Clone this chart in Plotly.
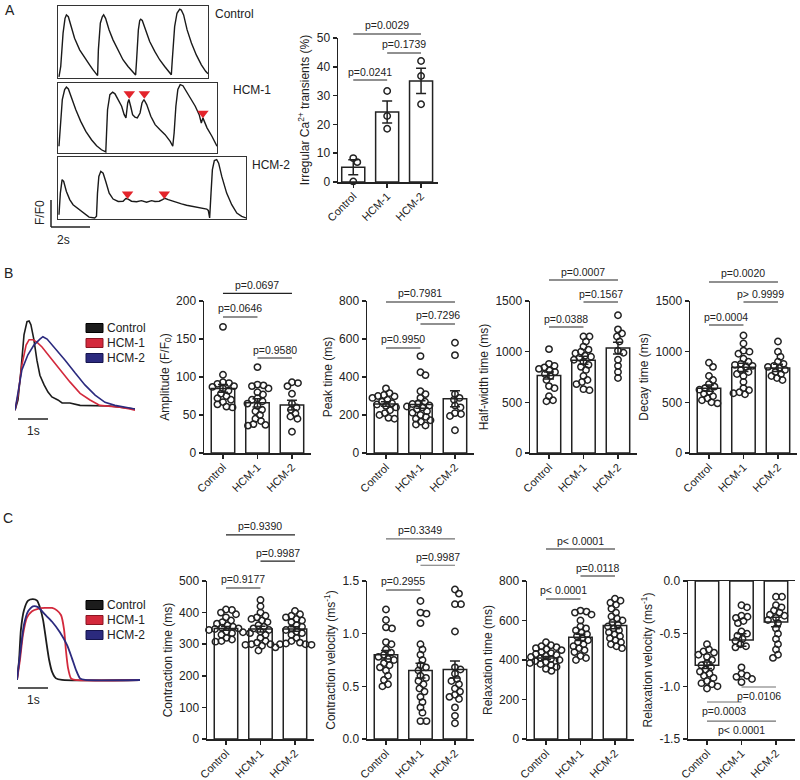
import plotly.graph_objects as go

# ------------------------------------------------------------------ DATA
CATS = ["Control", "HCM-1", "HCM-2"]
TRACE_NAMES = ["Control", "HCM-1", "HCM-2"]
TRACE_COLORS = ["#1c1c1c", "#d3293c", "#2b2a7e"]
SWATCH_EDGES = ["#000000", "#8a1522", "#15144d"]

# Panel A representative Ca2+ transients (time in s, F/F0)
A_CTRL_T = [0.05, 0.14, 0.26, 0.36, 0.43, 0.53, 0.68, 0.85, 1.11, 1.37, 1.62, 1.79, 1.97, 2.03, 2.07, 2.17, 2.27, 2.34, 2.44, 2.62,
            2.82, 3.08, 3.33, 3.59, 3.85, 3.98, 4.03, 4.12, 4.19, 4.24, 4.32, 4.50, 4.70, 4.96, 5.21, 5.47, 5.69, 5.81, 5.86, 5.98,
            6.10, 6.24, 6.32, 6.44, 6.62, 6.84, 7.09, 7.35, 7.57, 7.69]
A_CTRL_F = [1.04, 1.43, 2.67, 3.22, 3.35, 3.28, 2.91, 2.48, 2.05, 1.74, 1.49, 1.31, 1.16, 1.09, 2.05, 3.04, 3.28, 3.35, 3.22, 2.79,
            2.42, 2.05, 1.68, 1.43, 1.21, 1.11, 1.68, 2.79, 3.14, 3.19, 3.14, 2.73, 2.36, 1.99, 1.68, 1.43, 1.21, 1.12, 1.68, 2.91,
            3.41, 3.56, 3.53, 3.35, 2.79, 2.30, 1.86, 1.49, 1.25, 1.16]
A_HCM1_T = [0.05, 0.12, 0.22, 0.34, 0.43, 0.53, 0.68, 0.91, 1.16, 1.42, 1.71, 1.97, 2.22, 2.44, 2.48, 2.53, 2.65, 2.79, 2.91, 3.08,
            3.25, 3.38, 3.47, 3.56, 3.62, 3.71, 3.81, 3.93, 4.05, 4.19, 4.29, 4.39, 4.53, 4.74, 4.96, 5.21, 5.47, 5.73, 5.86, 5.93,
            6.02, 6.12, 6.24, 6.38, 6.55, 6.75, 7.01, 7.21, 7.32, 7.40, 7.47, 7.61, 7.86, 8.12]
A_HCM1_F = [1.25, 1.99, 2.98, 3.35, 3.44, 3.37, 3.04, 2.60, 2.17, 1.80, 1.49, 1.27, 1.12, 1.04, 1.74, 2.60, 3.16, 3.25, 3.19, 2.98,
            2.73, 2.42, 2.30, 2.85, 2.98, 2.73, 2.42, 2.33, 2.30, 2.48, 2.85, 2.98, 2.79, 2.36, 2.05, 1.86, 1.68, 1.43, 1.25, 1.74,
            2.73, 3.35, 3.53, 3.49, 3.28, 3.04, 2.73, 2.42, 2.11, 2.30, 2.17, 1.93, 1.62, 1.25]
A_HCM1_EVENT_T = [3.64, 4.41, 7.40]
A_HCM1_EVENT_F = [3.19, 3.19, 2.47]
A_HCM2_T = [0.05, 0.12, 0.21, 0.29, 0.43, 0.60, 0.77, 0.97, 1.20, 1.42, 1.59, 1.88, 1.97, 2.02, 2.09, 2.19, 2.31, 2.44, 2.62, 2.82,
            3.08, 3.33, 3.47, 3.59, 3.76, 4.02, 4.27, 4.53, 4.79, 4.96, 5.18, 5.35, 5.47, 5.64, 5.86, 6.07, 6.32, 6.58, 6.84, 7.09,
            7.35, 7.61, 7.69, 7.76, 7.83, 7.90, 8.00, 8.12, 8.22, 8.38, 8.63, 8.89, 9.15, 9.40, 9.62]
A_HCM2_F = [1.16, 1.96, 2.46, 2.40, 2.02, 1.72, 1.53, 1.41, 1.28, 1.16, 1.07, 1.04, 1.10, 1.96, 2.58, 2.77, 2.70, 2.40, 1.96, 1.74,
            1.65, 1.66, 1.76, 1.74, 1.66, 1.64, 1.68, 1.62, 1.68, 1.65, 1.66, 1.72, 1.77, 1.72, 1.66, 1.60, 1.56, 1.51, 1.48, 1.44,
            1.41, 1.37, 1.32, 1.04, 1.96, 2.83, 3.17, 3.20, 3.07, 2.58, 1.96, 1.53, 1.22, 1.10, 1.04]
A_HCM2_EVENT_T = [3.56, 5.44]
A_HCM2_EVENT_F = [1.93, 1.93]

# Panel A: irregular Ca2+ transients (%)
IRR_GROUPS = [[8.3, 6.9, 0.2], [31.6, 22.9, 18.5], [42.0, 36.8, 27.0]]
IRR_MEAN = [5.1, 24.3, 35.1]
IRR_SEM = [2.6, 3.8, 4.4]
IRR_P = ["p=0.0241", "p=0.1739", "p=0.0029"]          # (C vs H1, H1 vs H2, C vs H2)

# Panel B average transients (time s, normalised F/F0)
B_T = [
    [0, 0.1, 0.2, 0.3, 0.4, 0.47, 0.53, 0.63, 0.73, 0.83, 0.97, 1.1, 1.23, 1.43, 1.57, 1.83, 2.17, 2.5, 2.83, 3.17, 3.5, 3.83, 4.0],
    [0, 0.1, 0.23, 0.37, 0.47, 0.6, 0.73, 0.9, 1.17, 1.5, 1.83, 2.17, 2.5, 2.83, 3.17, 3.5, 3.83, 4.0],
    [0, 0.1, 0.23, 0.43, 0.63, 0.83, 0.93, 1.07, 1.33, 1.67, 2.0, 2.33, 2.67, 3.0, 3.33, 3.67, 4.0],
]
B_F = [
    [1.0, 1.17, 1.67, 2.25, 2.47, 2.48, 2.42, 2.17, 1.83, 1.58, 1.42, 1.3, 1.22, 1.17, 1.12, 1.12, 1.08, 1.08, 1.07, 1.07, 1.05, 1.03, 1.02],
    [1.0, 1.25, 1.75, 2.08, 2.17, 2.17, 2.13, 2.05, 1.88, 1.67, 1.47, 1.28, 1.17, 1.08, 1.07, 1.05, 1.02, 1.0],
    [1.0, 1.3, 1.67, 1.92, 2.08, 2.18, 2.22, 2.18, 2.03, 1.83, 1.62, 1.42, 1.25, 1.13, 1.08, 1.05, 1.02],
]

AMP_GROUPS = [
    [166, 103, 93, 92, 91, 88, 87, 85, 82, 78, 75, 72, 70, 67, 64, 61, 60],
    [113, 90, 89, 88, 85, 80, 77, 72, 70, 68, 65, 62, 57, 55, 50, 45, 42, 38, 37, 36],
    [93, 92, 88, 78, 65, 60, 57, 52, 48, 45, 28],
]
AMP_MEAN = [85, 66, 63]
AMP_SEM = [5, 5.5, 6.5]
AMP_P = ["p=0.0646", "p=0.9580", "p=0.0697"]

PEAK_GROUPS = [
    [340, 315, 305, 300, 298, 290, 280, 270, 262, 255, 248, 240, 225, 210, 200, 185, 180],
    [510, 425, 410, 325, 310, 290, 270, 262, 258, 250, 245, 240, 230, 220, 212, 200, 190, 180, 172, 165, 150, 145],
    [580, 515, 310, 290, 280, 250, 240, 210, 205, 195, 120],
]
PEAK_MEAN = [258, 255, 285]
PEAK_SEM = [12, 20, 42]
PEAK_P = ["p=0.9950", "p=0.7296", "p=0.7981"]

HALF_GROUPS = [
    [1025, 880, 860, 845, 830, 815, 800, 780, 760, 720, 660, 640, 560, 520, 510],
    [1150, 1150, 1100, 1050, 1020, 1000, 985, 960, 950, 940, 920, 900, 870, 850, 820, 760, 720, 700, 680, 630, 620],
    [1360, 1220, 1180, 1150, 1100, 1010, 990, 920, 860, 800, 740],
]
HALF_MEAN = [765, 915, 1035]
HALF_SEM = [35, 40, 58]
HALF_P = ["p=0.0388", "p=0.1567", "p=0.0007"]

DECAY_GROUPS = [
    [890, 850, 760, 720, 680, 655, 640, 625, 605, 585, 560, 540, 520, 500, 490],
    [1160, 1080, 1010, 1000, 980, 930, 900, 880, 870, 860, 850, 820, 800, 780, 760, 700, 640, 620, 600, 590, 580],
    [1100, 1000, 950, 900, 880, 860, 850, 840, 820, 800, 780, 760, 740, 720],
]
DECAY_MEAN = [640, 845, 840]
DECAY_SEM = [30, 40, 35]
DECAY_P = ["p=0.0004", "p> 0.9999", "p=0.0020"]

# Panel C average contraction traces (time s, normalised)
C_T = [
    [0, 0.07, 0.13, 0.23, 0.37, 0.53, 0.67, 0.77, 0.87, 0.97, 1.07, 1.17, 1.3, 1.5, 4.1],
    [0, 0.1, 0.2, 0.33, 0.5, 0.7, 0.93, 1.17, 1.33, 1.47, 1.57, 1.63, 1.7, 1.8, 1.93, 4.1],
    [0, 0.1, 0.23, 0.37, 0.53, 0.7, 0.93, 1.17, 1.43, 1.67, 1.83, 1.97, 2.1, 2.27, 4.1],
]
C_F = [
    [0, 0.25, 0.62, 0.86, 0.98, 1.0, 0.98, 0.89, 0.74, 0.49, 0.25, 0.10, 0.02, 0, 0],
    [0, 0.25, 0.56, 0.77, 0.85, 0.88, 0.89, 0.89, 0.86, 0.80, 0.62, 0.37, 0.15, 0.02, 0, 0],
    [0, 0.31, 0.68, 0.85, 0.91, 0.90, 0.81, 0.72, 0.59, 0.43, 0.27, 0.12, 0.02, 0, 0],
]

CT_GROUPS = [
    [410, 408, 400, 395, 385, 375, 370, 365, 360, 355, 352, 350, 348, 345, 340, 338, 335, 330, 320, 315, 310, 308],
    [440, 420, 400, 390, 385, 380, 375, 370, 360, 355, 350, 345, 340, 335, 330, 320, 310, 305, 300, 300, 298, 295, 290, 280],
    [405, 395, 390, 385, 380, 375, 370, 360, 355, 350, 345, 340, 335, 330, 320, 310, 305, 302, 300, 300, 298],
]
CT_MEAN = [350, 348, 348]
CT_SEM = [6, 9, 7]
CT_P = ["p=0.9177", "p=0.9987", "p=0.9390"]

CV_GROUPS = [
    [1.23, 1.13, 1.06, 1.05, 0.92, 0.90, 0.85, 0.82, 0.80, 0.78, 0.76, 0.75, 0.72, 0.70, 0.68, 0.65, 0.60, 0.56, 0.52, 0.50],
    [1.31, 1.20, 1.19, 1.10, 0.90, 0.85, 0.80, 0.75, 0.70, 0.68, 0.65, 0.60, 0.58, 0.55, 0.52, 0.48, 0.45, 0.40, 0.35, 0.30, 0.25, 0.17, 0.17],
    [1.42, 1.38, 1.28, 1.28, 1.02, 0.68, 0.66, 0.62, 0.57, 0.55, 0.52, 0.48, 0.45, 0.42, 0.40, 0.38, 0.30, 0.22, 0.15],
]
CV_MEAN = [0.80, 0.65, 0.66]
CV_SEM = [0.04, 0.07, 0.08]
CV_P = ["p=0.2955", "p=0.9987", "p=0.3349"]

RT_GROUPS = [
    [490, 475, 470, 465, 460, 455, 450, 440, 435, 430, 425, 420, 415, 410, 405, 400, 395, 390, 385, 380, 375, 365, 355, 345],
    [650, 645, 640, 630, 600, 570, 560, 550, 540, 530, 520, 510, 500, 490, 480, 470, 460, 450, 440, 420, 410, 400],
    [710, 700, 690, 680, 660, 640, 620, 610, 600, 590, 580, 570, 560, 550, 540, 530, 520, 510, 500, 490, 480, 470, 460],
]
RT_MEAN = [410, 515, 575]
RT_SEM = [8, 16, 17]
RT_P = ["p< 0.0001", "p=0.0118", "p< 0.0001"]

RV_GROUPS = [
    [-0.60, -0.65, -0.67, -0.68, -0.70, -0.72, -0.75, -0.78, -0.80, -0.82, -0.84, -0.86, -0.88, -0.90, -0.92, -0.95, -0.97, -0.98, -1.00, -1.02],
    [-0.23, -0.25, -0.33, -0.34, -0.35, -0.38, -0.40, -0.48, -0.50, -0.52, -0.55, -0.57, -0.60, -0.62, -0.63, -0.82, -0.88, -0.90, -0.91, -0.93, -0.96],
    [-0.15, -0.15, -0.23, -0.25, -0.28, -0.30, -0.32, -0.33, -0.35, -0.37, -0.40, -0.45, -0.50, -0.55, -0.60, -0.65, -0.70, -0.73],
]
RV_MEAN = [-0.80, -0.56, -0.39]
RV_SEM = [0.03, 0.06, 0.045]
RV_P = ["p=0.0003", "p=0.0106", "p< 0.0001"]

# ------------------------------------------------------------------ LAYOUT HELPERS
W, H = 800, 780
INK = "#222222"
FONT = "Liberation Sans, Arial, Helvetica, sans-serif"
PFONT_SIZE = 10.5


def PX(x):
    return x / W


def PY(y):
    return 1 - y / H


fig = go.Figure()
layout = dict(template="none", width=W, height=H, margin=dict(l=0, r=0, t=0, b=0, pad=0, autoexpand=False),
              paper_bgcolor="white", plot_bgcolor="white", showlegend=False,
              font=dict(family=FONT, size=12, color=INK))
shapes, annotations = [], []
_n = [0]


def new_axes(xpx, ypx, xr, yr, xopts=None, yopts=None):
    _n[0] += 1
    n = _n[0]
    sx = "" if n == 1 else str(n)
    xref, yref = "x" + sx, "y" + sx
    xd = dict(domain=[PX(xpx[0]), PX(xpx[1])], range=list(xr), anchor=yref, automargin=False,
              showgrid=False, zeroline=False, fixedrange=True)
    yd = dict(domain=[PY(ypx[1]), PY(ypx[0])], range=list(yr), anchor=xref, automargin=False,
              showgrid=False, zeroline=False, fixedrange=True)
    xd.update(xopts or {})
    yd.update(yopts or {})
    layout["xaxis" + sx] = xd
    layout["yaxis" + sx] = yd
    return xref, yref


def text(x, y, s, size=12, xanchor="center", yanchor="middle", angle=0):
    annotations.append(dict(xref="paper", yref="paper", x=PX(x), y=PY(y), text=s, showarrow=False,
                            xanchor=xanchor, yanchor=yanchor, textangle=angle,
                            font=dict(family=FONT, size=size, color=INK)))


def pline(x0, y0, x1, y1, width=1.5, color=INK):
    shapes.append(dict(type="line", xref="paper", yref="paper", x0=PX(x0), y0=PY(y0),
                       x1=PX(x1), y1=PY(y1), line=dict(color=color, width=width)))


def swarm(values, ppu_y, ppu_x, diam=6.4):
    order = sorted(range(len(values)), key=lambda i: -values[i])
    placed, offs = [], [0.0] * len(values)
    for i in order:
        yp = values[i] * ppu_y
        chosen = 0.0
        for k in range(0, 60):
            cands = [0.0] if k == 0 else [k * 0.5, -k * 0.5]
            ok = None
            for xo in cands:
                if all((xo - a) ** 2 + (yp - b) ** 2 >= (diam * 0.88) ** 2 for a, b in placed):
                    ok = xo
                    break
            if ok is not None:
                chosen = ok
                break
        placed.append((chosen, yp))
        offs[i] = chosen / ppu_x
    return offs


def bar_chart(x0px, ytop, ybot, yrange, tickvals, ticktext, ytitle, groups, means, sems, pvals, levels,
              below=False, bcolors=None, xrange=(-0.55, 2.55), unit=34.5, mirror=False):
    xw = (xrange[1] - xrange[0]) * unit
    xref, yref = new_axes(
        (x0px, x0px + xw), (ytop, ybot), xrange, yrange,
        xopts=dict(showline=True, linecolor=INK, linewidth=1.5, ticks="outside", ticklen=4, tickwidth=1.5,
                   tickcolor=INK, tickvals=[0, 1, 2], ticktext=CATS, tickangle=-45, ticklabelstandoff=-2,
                   tickfont=dict(size=11, color=INK), mirror=mirror),
        yopts=dict(showline=True, linecolor=INK, linewidth=1.5, ticks="outside", ticklen=4, tickwidth=1.5,
                   tickcolor=INK, tickvals=tickvals, ticktext=ticktext, tickfont=dict(size=12, color=INK),
                   title=dict(text=ytitle, font=dict(size=12, color=INK), standoff=4)))
    fig.add_trace(go.Bar(x=[0, 1, 2], y=means, width=0.68,
                         marker=dict(color="white", line=dict(color=INK, width=1.5)),
                         xaxis=xref, yaxis=yref, hoverinfo="skip"))
    ppu_y = (ybot - ytop) / (yrange[1] - yrange[0])
    for k, vals in enumerate(groups):
        offs = swarm(vals, ppu_y, unit)
        fig.add_trace(go.Scatter(x=[k + o for o in offs], y=vals, mode="markers", cliponaxis=False,
                                 marker=dict(symbol="circle-open", size=6.4, color=INK, line=dict(width=1.5)),
                                 xaxis=xref, yaxis=yref, hoverinfo="skip"))
    fig.add_trace(go.Scatter(x=[0, 1, 2], y=means, mode="markers", cliponaxis=False,
                             marker=dict(size=2, color="rgba(0,0,0,0)"),
                             error_y=dict(type="data", array=sems, color=INK, thickness=1.5, width=5),
                             xaxis=xref, yaxis=yref, hoverinfo="skip"))
    pairs = [(0, 1), (1, 2), (0, 2)]
    bcolors = bcolors or [INK, INK, INK]
    for (i, j), lev, ptxt, col in zip(pairs, levels, pvals, bcolors):
        yp = PY(ybot) + (lev - yrange[0]) / (yrange[1] - yrange[0]) * (PY(ytop) - PY(ybot))
        shapes.append(dict(type="line", xref=xref, yref="paper", x0=i, x1=j, y0=yp, y1=yp,
                           line=dict(color=col, width=1.1)))
        annotations.append(dict(xref=xref, yref="paper", x=(i + j) / 2,
                                y=yp - 1.0 / H if below else yp + 0.5 / H,
                                yanchor="top" if below else "bottom", text=ptxt, showarrow=False,
                                font=dict(family=FONT, size=PFONT_SIZE, color=INK)))
    return xref, yref


# ------------------------------------------------------------------ PANEL A
box_opts = dict(showline=True, mirror=True, linecolor="#333333", linewidth=1, ticks="",
                showticklabels=False)
a_boxes = [((58, 208), (6, 78), (0, 7.69), (1.0, 3.68), A_CTRL_T, A_CTRL_F, None, None),
           ((58, 217), (83, 153), (0, 8.12), (1.0, 3.59), A_HCM1_T, A_HCM1_F, A_HCM1_EVENT_T, A_HCM1_EVENT_F),
           ((58, 246), (157, 219), (0, 9.62), (1.0, 3.30), A_HCM2_T, A_HCM2_F, A_HCM2_EVENT_T, A_HCM2_EVENT_F)]
for xpx, ypx, xr, yr, tt, ff, et, ef in a_boxes:
    xr_, yr_ = new_axes(xpx, ypx, xr, yr, xopts=dict(box_opts), yopts=dict(box_opts))
    fig.add_trace(go.Scatter(x=tt, y=ff, mode="lines", line=dict(color="#1a1a1a", width=1.4),
                             xaxis=xr_, yaxis=yr_, hoverinfo="skip", cliponaxis=True))
    if et:
        fig.add_trace(go.Scatter(x=et, y=ef, mode="markers", cliponaxis=False,
                                 marker=dict(symbol="triangle-down", size=10, color="#e3242b"),
                                 xaxis=xr_, yaxis=yr_, hoverinfo="skip"))

text(213, 14, "Control", xanchor="left")
text(231, 90, "HCM-1", xanchor="left")
text(250, 165, "HCM-2", xanchor="left")
# scale bar
pline(51, 200, 51, 227)
pline(51, 227, 90, 227)
text(40, 213, "F/F0", angle=-90)
text(63, 240, "2s")
text(10, 10, "A", size=14)

bar_chart(338, 38, 182, (0, 50), [0, 10, 20, 30, 40, 50], ["0", "10", "20", "30", "40", "50"],
          "Irregular Ca<sup>2+</sup> transients (%)", IRR_GROUPS, IRR_MEAN, IRR_SEM, IRR_P,
          [35.4, 44.8, 51.4], xrange=(-0.45, 2.5), unit=33.9)

# ------------------------------------------------------------------ PANEL B
text(8, 273, "B", size=14)
bx, by = new_axes((15, 135), (315, 412), (0, 4.0), (0.97, 2.58),
                  xopts=dict(visible=False), yopts=dict(visible=False))
for k in range(3):
    fig.add_trace(go.Scatter(x=B_T[k], y=B_F[k], mode="lines", line=dict(color=TRACE_COLORS[k], width=1.6),
                             xaxis=bx, yaxis=by, hoverinfo="skip", cliponaxis=False))
for k, yc in enumerate([328, 343, 358]):
    shapes.append(dict(type="rect", xref="paper", yref="paper", x0=PX(86), x1=PX(103), y0=PY(yc + 4.5),
                       y1=PY(yc - 4.5), fillcolor=TRACE_COLORS[k], line=dict(color=SWATCH_EDGES[k], width=1)))
    text(105, yc, TRACE_NAMES[k], xanchor="left")
pline(18, 419, 48, 419)
text(33, 431, "1s")

bar_chart(204, 301, 453, (0, 200), [0, 50, 100, 150, 200], ["0", "50", "100", "150", "200"],
          "Amplitude (F/F<sub>0</sub>)", AMP_GROUPS, AMP_MEAN, AMP_SEM, AMP_P, [179, 125, 210])
bar_chart(367, 301, 453, (0, 800), [0, 200, 400, 600, 800], ["0", "200", "400", "600", "800"],
          "Peak time (ms)", PEAK_GROUPS, PEAK_MEAN, PEAK_SEM, PEAK_P, [553, 679, 795])
bar_chart(530, 301, 453, (0, 1500), [0, 500, 1000, 1500], ["0", "500", "1000", "1500"],
          "Half-width time (ms)", HALF_GROUPS, HALF_MEAN, HALF_SEM, HALF_P, [1243, 1490, 1707])
bar_chart(690, 301, 453, (0, 1500), [0, 500, 1000, 1500], ["0", "500", "1000", "1500"],
          "Decay time (ms)", DECAY_GROUPS, DECAY_MEAN, DECAY_SEM, DECAY_P, [1263, 1490, 1688])

# ------------------------------------------------------------------ PANEL C
text(8, 518, "C", size=14)
cx, cy = new_axes((17, 140), (595, 682), (0, 4.1), (-0.025, 1.05),
                  xopts=dict(visible=False), yopts=dict(visible=False))
for k in range(3):
    fig.add_trace(go.Scatter(x=C_T[k], y=C_F[k], mode="lines", line=dict(color=TRACE_COLORS[k], width=1.8,
                                                                          shape="spline", smoothing=0.6),
                             xaxis=cx, yaxis=cy, hoverinfo="skip", cliponaxis=False))
for k, yc in enumerate([605, 620, 635]):
    shapes.append(dict(type="rect", xref="paper", yref="paper", x0=PX(86), x1=PX(103), y0=PY(yc + 4.5),
                       y1=PY(yc - 4.5), fillcolor=TRACE_COLORS[k], line=dict(color=SWATCH_EDGES[k], width=1)))
    text(105, yc, TRACE_NAMES[k], xanchor="left")
pline(18, 688, 48, 688)
text(33, 700, "1s")

GRAY = "#707070"
bar_chart(207, 581, 739, (0, 500), [0, 100, 200, 300, 400, 500], ["0", "100", "200", "300", "400", "500"],
          "Contraction time (ms)", CT_GROUPS, CT_MEAN, CT_SEM, CT_P, [478, 563, 646])
bar_chart(367, 581, 739, (0, 1.5), [0, 0.5, 1.0, 1.5], ["0.0", "0.5", "1.0", "1.5"],
          "Contraction velocity (ms<sup>-1</sup>)", CV_GROUPS, CV_MEAN, CV_SEM, CV_P, [1.415, 1.65, 1.90],
          bcolors=[INK, GRAY, GRAY])
bar_chart(527, 581, 739, (0, 800), [0, 200, 400, 600, 800], ["0", "200", "400", "600", "800"],
          "Relaxation time (ms)", RT_GROUPS, RT_MEAN, RT_SEM, RT_P, [709, 825, 962])
bar_chart(688, 581, 739, (-1.5, 0), [0, -0.5, -1.0, -1.5], ["0.0", "-0.5", "-1.0", "-1.5"],
          "Relaxation velocity (ms<sup>-1</sup>)", RV_GROUPS, RV_MEAN, RV_SEM, RV_P, [-1.149, -1.007, -1.33],
          below=True, bcolors=[GRAY, GRAY, GRAY], mirror=True)

layout["shapes"] = shapes
layout["annotations"] = annotations
fig.update_layout(**layout)
fig.write_html("out.html", config={"displayModeBar": False, "staticPlot": True},
               post_script="document.body.style.margin='0';document.body.style.overflow='hidden';")
